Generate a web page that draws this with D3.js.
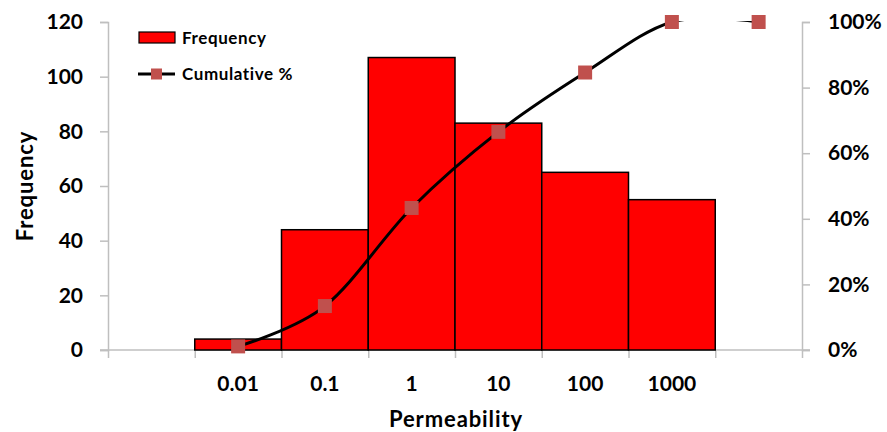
<!DOCTYPE html>
<html>
<head>
<meta charset="utf-8">
<script src="https://cdn.jsdelivr.net/npm/d3@7"></script>
<style>
  html, body { margin: 0; padding: 0; background: #fff; }
  svg { display: block; font-family: Lato, "Open Sans", sans-serif; }
</style>
</head>
<body>
<svg id="chart" width="887" height="432"></svg>
<script>
// Permeability bins (first and last bins are unlabeled)
const categories = ["", "0.01", "0.1", "1", "10", "100", "1000", ""];
// Number of samples per bin
const frequency = [0, 4, 44, 107, 83, 65, 55, 0];
// Cumulative percentage per bin (null = no point)
const cumulativePct = [null, 1.1, 13.4, 43.3, 66.5, 84.6, 100, 100];
const freqTicks = [0, 20, 40, 60, 80, 100, 120];
const pctTicks = [0, 20, 40, 60, 80, 100];

const svg = d3.select("#chart");
const plot = { left: 108, right: 802, top: 22, bottom: 350 };
const axisColor = "#bfbfbf";
const tickFont = 21;

const idx = categories.map((_, i) => i);
const x = d3.scaleBand().domain(idx).range([plot.left, plot.right]).padding(0);
const xEdges = d3.scaleLinear().domain([0, categories.length]).range([plot.left, plot.right]);
const yL = d3.scaleLinear().domain([0, 120]).range([plot.bottom, plot.top]);
const yR = d3.scaleLinear().domain([0, 100]).range([plot.bottom, plot.top]);

// clip for the smoothed line (stays inside plot area)
svg.append("defs").append("clipPath").attr("id", "plotClip")
  .append("rect").attr("x", plot.left).attr("y", plot.top - 0.9)
  .attr("width", plot.right - plot.left).attr("height", plot.bottom - plot.top + 0.9);

// Left axis
const gL = svg.append("g").attr("transform", `translate(${plot.left},0)`)
  .call(d3.axisLeft(yL).tickValues(freqTicks).tickSize(8).tickPadding(17));
// Right axis
const gR = svg.append("g").attr("transform", `translate(${plot.right},0)`)
  .call(d3.axisRight(yR).tickValues(pctTicks).tickSize(8).tickPadding(18)
    .tickFormat(d => d + "%"));
// Category boundary ticks
const gX = svg.append("g").attr("transform", `translate(0,${plot.bottom})`)
  .call(d3.axisBottom(xEdges).tickValues(d3.range(categories.length + 1))
    .tickSize(8).tickFormat(""));
// Category labels
const gXL = svg.append("g").attr("transform", `translate(0,${plot.bottom})`)
  .call(d3.axisBottom(x).tickSize(0).tickPadding(26).tickFormat(i => categories[i]));
gXL.select(".domain").remove();

[gL, gR, gX].forEach(g => {
  g.selectAll(".domain").attr("stroke", axisColor).attr("stroke-width", 1.5);
  g.selectAll(".tick line").attr("stroke", axisColor).attr("stroke-width", 1.5);
});
[gL, gR, gXL].forEach(g => {
  g.selectAll(".tick text").attr("fill", "#000").attr("font-size", tickFont)
    .attr("font-weight", "bold").attr("font-family", "Lato, sans-serif");
});
gX.select(".domain").attr("d", `M${plot.left - 8},0H${plot.right + 8}`);

// Bars
svg.append("g").selectAll("rect").data(idx.filter(i => frequency[i] > 0)).join("rect")
  .attr("x", i => x(i)).attr("width", x.bandwidth())
  .attr("y", i => yL(frequency[i])).attr("height", i => yL(0) - yL(frequency[i]))
  .attr("fill", "#ff0000").attr("stroke", "#000").attr("stroke-width", 1.5);

// Smoothed cumulative line
const pts = idx.filter(i => cumulativePct[i] !== null);
const line = d3.line()
  .x(i => x(i) + x.bandwidth() / 2)
  .y(i => yR(cumulativePct[i]))
  .curve(d3.curveCardinal.tension(0));
svg.append("path").datum(pts).attr("d", line)
  .attr("fill", "none").attr("stroke", "#000").attr("stroke-width", 3)
  .attr("clip-path", "url(#plotClip)");

// Markers
const ms = 14;
svg.append("g").selectAll("rect").data(pts).join("rect")
  .attr("x", i => x(i) + x.bandwidth() / 2 - ms / 2)
  .attr("y", i => yR(cumulativePct[i]) - ms / 2)
  .attr("width", ms).attr("height", ms)
  .attr("fill", "#c0504d");

// Axis titles
svg.append("text").attr("x", 456).attr("y", 427).attr("text-anchor", "middle")
  .attr("font-size", 22).attr("letter-spacing", 0.9).attr("font-weight", "bold")
  .text("Permeability");
svg.append("text").attr("transform", "translate(33,186) rotate(-90)")
  .attr("text-anchor", "middle").attr("font-size", 22).attr("letter-spacing", 0.9)
  .attr("font-weight", "bold").text("Frequency");

// Legend
const lg = svg.append("g");
lg.append("rect").attr("x", 139).attr("y", 32).attr("width", 36).attr("height", 11)
  .attr("fill", "#ff0000").attr("stroke", "#000").attr("stroke-width", 1.2);
lg.append("text").attr("x", 182).attr("y", 38).attr("dy", "0.35em")
  .attr("font-size", 17).attr("letter-spacing", 0.6).attr("font-weight", "bold")
  .text("Frequency");
lg.append("line").attr("x1", 138).attr("x2", 175).attr("y1", 74).attr("y2", 74)
  .attr("stroke", "#000").attr("stroke-width", 3);
lg.append("rect").attr("x", 151).attr("y", 68.5).attr("width", 11).attr("height", 11)
  .attr("fill", "#c0504d");
lg.append("text").attr("x", 182).attr("y", 74).attr("dy", "0.35em")
  .attr("font-size", 17).attr("letter-spacing", 0.6).attr("font-weight", "bold")
  .text("Cumulative %");
</script>
</body>
</html>
